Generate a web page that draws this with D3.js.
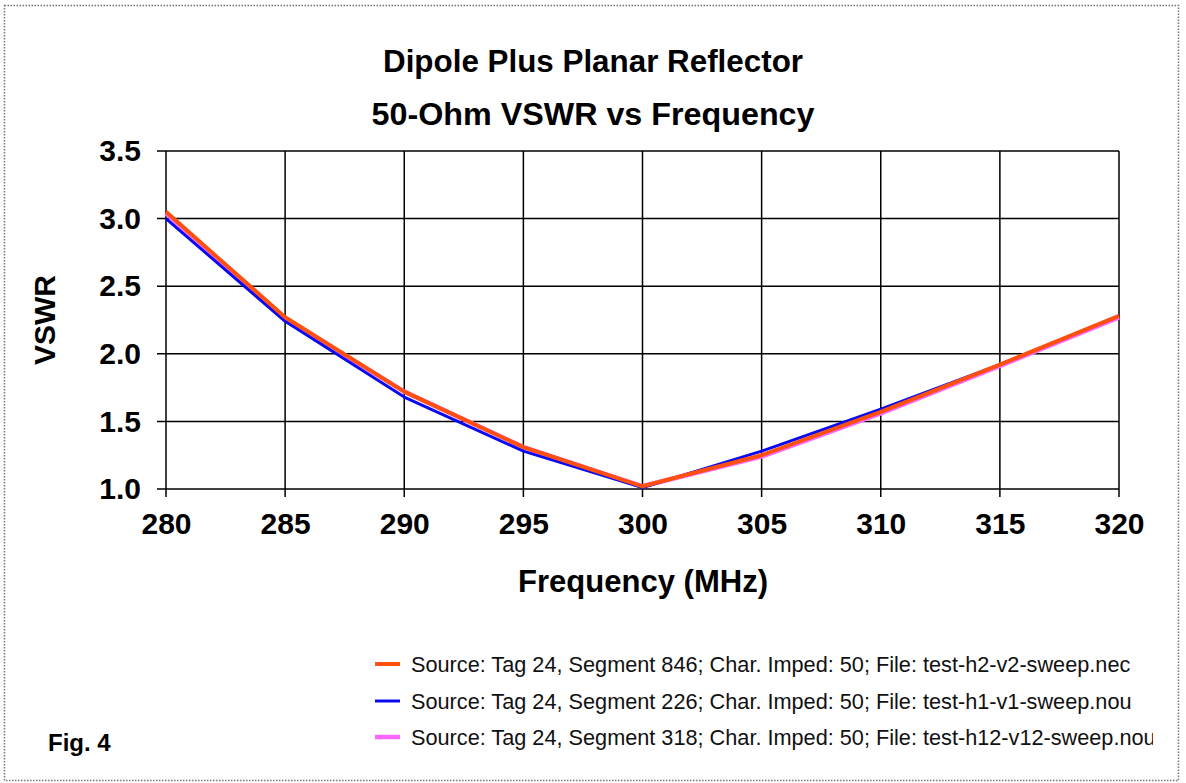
<!DOCTYPE html>
<html><head><meta charset="utf-8">
<script src="https://cdn.jsdelivr.net/npm/d3@7"></script>
<style>body{margin:0;background:#fff;}svg{display:block;font-family:"Liberation Sans",Arial,sans-serif;}</style>
</head><body>
<svg id="c" width="1186" height="783"></svg>
<script>
const freqs = [280, 285, 290, 295, 300, 305, 310, 315, 320];
const seriesNames = [
  "Source: Tag 24, Segment 846; Char. Imped: 50; File: test-h2-v2-sweep.nec",
  "Source: Tag 24, Segment 226; Char. Imped: 50; File: test-h1-v1-sweep.nou",
  "Source: Tag 24, Segment 318; Char. Imped: 50; File: test-h12-v12-sweep.nou"
];
const vswrNec = [3.05, 2.27, 1.72, 1.31, 1.02, 1.25, 1.57, 1.92, 2.28];
const vswrH1 = [3.00, 2.24, 1.68, 1.28, 1.01, 1.28, 1.59, 1.92, 2.28];
const vswrH12 = [3.04, 2.26, 1.72, 1.31, 1.02, 1.24, 1.56, 1.91, 2.27];
const colors = ["#ff5010", "#0a0af0", "#ff66ff"];
const widths = [4, 3, 4.5];
const xTicks = [280, 285, 290, 295, 300, 305, 310, 315, 320];
const yTicks = [1.0, 1.5, 2.0, 2.5, 3.0, 3.5];

const svg = d3.select("#c");
svg.append("defs").append("clipPath").attr("id","legclip")
  .append("rect").attr("x",360).attr("y",640).attr("width",793).attr("height",120);
// outer dotted border
svg.append("rect").attr("x",4.5).attr("y",5.5).attr("width",1174).attr("height",775)
  .attr("fill","none").attr("stroke","#777").attr("stroke-width",1.5).attr("stroke-dasharray","1.5,1.5");

const L=166, R=1119, T=151, B=489;
const x = d3.scaleLinear().domain([280,320]).range([L,R]);
const y = d3.scaleLinear().domain([1,3.5]).range([B,T]);

const g = svg.append("g");
// grid
g.selectAll(".vg").data(xTicks).join("line")
  .attr("x1",d=>x(d)).attr("x2",d=>x(d)).attr("y1",T).attr("y2",B+8)
  .attr("stroke","#000").attr("stroke-width",1.5);
g.selectAll(".hg").data(yTicks).join("line")
  .attr("x1",L-9).attr("x2",R).attr("y1",d=>y(d)).attr("y2",d=>y(d))
  .attr("stroke","#000").attr("stroke-width",1.5);

// axes labels via d3 axes (tick lines hidden, text used)
const xAxis = d3.axisBottom(x).tickValues(xTicks).tickSize(0).tickPadding(0).tickFormat(d3.format("d"));
const xa = svg.append("g").attr("transform",`translate(0,${B+45})`).call(xAxis);
xa.select(".domain").remove();
xa.selectAll("text").attr("dy",0).attr("y",0).attr("font-size",30).attr("font-weight","bold").attr("fill","#000")
  .attr("font-family","'Liberation Sans',Arial,sans-serif");

const yAxis = d3.axisLeft(y).tickValues(yTicks).tickSize(0).tickPadding(0).tickFormat(d3.format(".1f"));
const ya = svg.append("g").attr("transform",`translate(${L-25},0)`).call(yAxis);
ya.select(".domain").remove();
ya.selectAll("text").attr("font-size",30).attr("font-weight","bold").attr("fill","#000")
  .attr("font-family","'Liberation Sans',Arial,sans-serif");

// lines
const line = d3.line().x((d,i)=>x(freqs[i])).y(d=>y(d));
[2,1,0].forEach(k=>{
  const vals = [vswrNec, vswrH1, vswrH12][k];
  svg.append("path").attr("d",line(vals)).attr("fill","none")
    .attr("stroke",colors[k]).attr("stroke-width",widths[k]).attr("stroke-linejoin","round");
});

// titles
svg.append("text").attr("x",593).attr("y",72).attr("text-anchor","middle")
  .attr("font-size",32).attr("font-weight","bold").attr("textLength",420).attr("lengthAdjust","spacingAndGlyphs")
  .text("Dipole Plus Planar Reflector");
svg.append("text").attr("x",593).attr("y",125).attr("text-anchor","middle")
  .attr("font-size",32).attr("font-weight","bold").attr("textLength",443).attr("lengthAdjust","spacingAndGlyphs")
  .text("50-Ohm VSWR vs Frequency");
svg.append("text").attr("x",643).attr("y",592).attr("text-anchor","middle")
  .attr("font-size",32).attr("font-weight","bold").attr("textLength",250).attr("lengthAdjust","spacingAndGlyphs")
  .text("Frequency (MHz)");
svg.append("text").attr("transform","translate(55,320) rotate(-90)").attr("text-anchor","middle")
  .attr("font-size",30).attr("font-weight","bold").text("VSWR");

// legend
const legY = [664, 701, 737];
const lg = svg.append("g").attr("clip-path","url(#legclip)");
seriesNames.forEach((n,i)=>{
  lg.append("line").attr("x1",375).attr("x2",400).attr("y1",legY[i]).attr("y2",legY[i])
    .attr("stroke",colors[i]).attr("stroke-width",widths[i]);
  lg.append("text").attr("x",411).attr("y",legY[i]+8).attr("font-size",21.7).attr("fill","#111").text(n);
});
svg.append("text").attr("x",48).attr("y",751).attr("font-size",24).attr("font-weight","bold").text("Fig. 4");
</script>
</body></html>
